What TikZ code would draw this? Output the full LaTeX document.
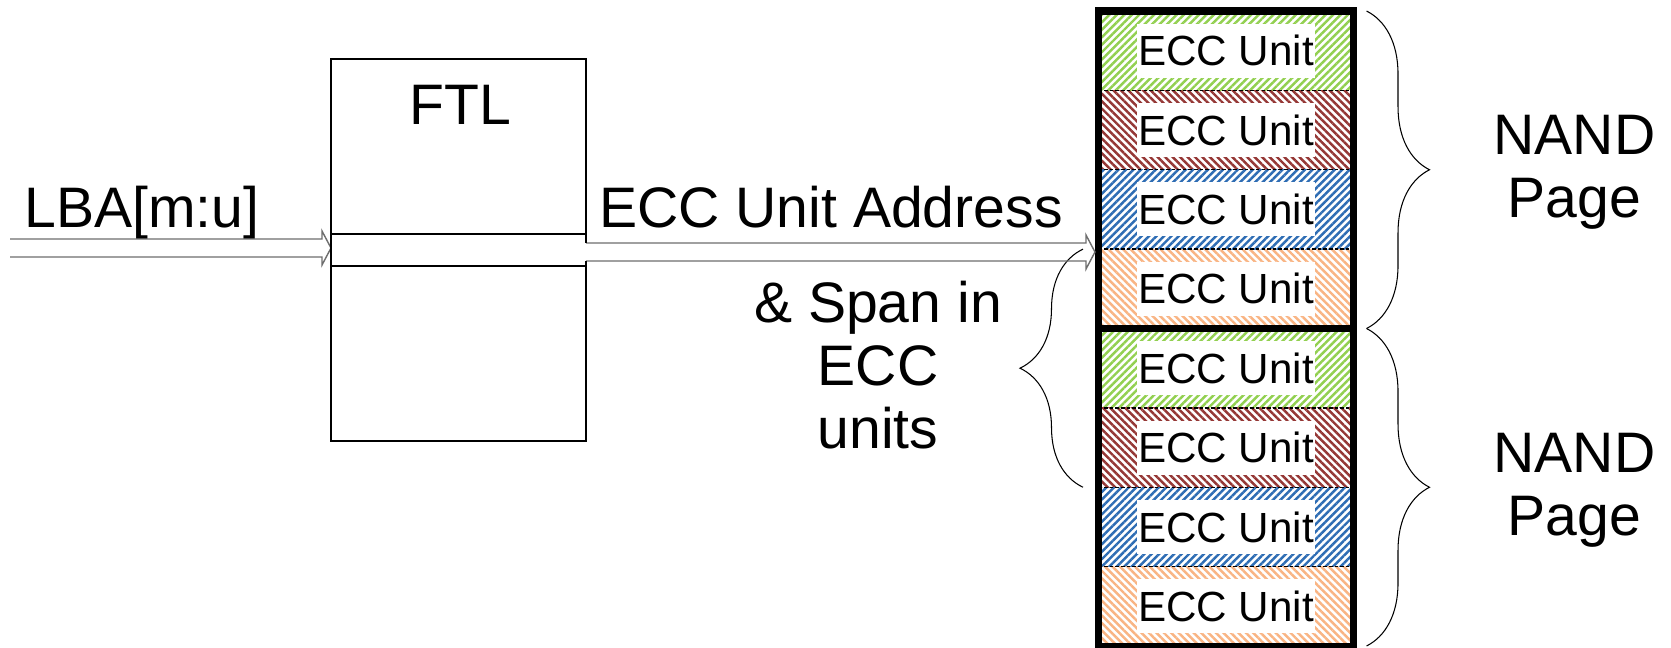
\documentclass[tikz,border=0pt]{standalone}
\usepackage{fontspec}
\setmainfont{Liberation Sans}
\usepackage{xcolor}
\definecolor{ndink}{HTML}{000000}
\definecolor{ndgrey}{HTML}{6E6E6E}
\definecolor{ndgreen}{HTML}{92D050}
\definecolor{ndred}{HTML}{953735}
\definecolor{ndblue}{HTML}{2E6DB4}
\definecolor{ndorange}{HTML}{F9B483}
\usepackage{tikz}
\usetikzlibrary{calc,patterns.meta,decorations.pathreplacing}
\tikzset{
  ndbox/.style  ={rectangle, draw=none, outer sep=0pt, inner sep=0pt,
                  minimum width=5.1cm, minimum height=7.64cm},
  ndband/.style ={rectangle, draw=none, outer sep=0pt, inner sep=0pt,
                  minimum width=5.1cm, minimum height=0.64cm},
  ndline/.style ={line width=1.1pt, draw=ndink},
  ndbig/.style  ={font=\fontsize{32.5}{36}\selectfont, align=center,
                  inner sep=0pt, text=ndink},
  ndunit/.style ={rectangle, draw=none, outer sep=0pt, inner sep=0pt,
                  minimum width=5.1cm, minimum height=1.5875cm},
  ndtag/.style  ={rectangle, fill=white, inner sep=0pt, minimum width=3.56cm,
                  minimum height=1.08cm, font=\fontsize{24}{28}\selectfont},
  ndstack/.style={rectangle, draw=ndink, line width=4pt, inner sep=0pt,
                  minimum width=5.1cm, minimum height=12.7cm},
  ndsplit/.style={dash pattern=on 2pt off 1.2pt, line width=0.8pt, draw=ndink},
  ndhollow/.style={line width=0.8pt, draw=ndgrey, line join=miter},
  ndbrace/.style={decorate, decoration={brace, amplitude=1.26cm},
                  line width=0.6pt, draw=ndink},
}
% outline arrow: open tail at #1, head ending at #2 (same height)
\newcommand{\hollowarrow}[2]{%
  \draw[ndhollow] ($(#1)+(0,-9)$) -- ($(#2)+(-9,-9)$) -- ($(#2)+(-9,-17)$)
    -- (#2) -- ($(#2)+(-9,17)$) -- ($(#2)+(-9,9)$) -- ($(#1)+(0,9)$);}

\begin{document}
\begin{tikzpicture}[x=0.2mm, y=-0.2mm]
  \path[use as bounding box, fill=white] (0,0) rectangle (1671,647);

  % FTL block with the address band running through it
  \node[ndbox] (ftl) at (458.5,250) {};
  \node[ndband] (band) at (458.5,250) {};
  \node[ndbig, anchor=base] (ftltxt) at (460.5,124) {FTL};

  % NAND stack: eight ECC units, four per page
  \foreach \col/\ang [count=\i] in {ndgreen/45, ndred/-45, ndblue/45, ndorange/-45,
                                   ndgreen/45, ndred/-45, ndblue/45, ndorange/-45}{
    \node[ndunit, pattern={Lines[angle=\ang, distance=3pt, line width=1.4pt]},
          pattern color=\col] (u\i) at (1226, {11+79.375*(\i-0.5)}) {};
    \node[ndtag] (tag\i) at (u\i) {ECC Unit};
  }
  \foreach \i in {1,2,3,5,6,7}
    \draw[ndsplit] (u\i.south west) -- (u\i.south east);
  \draw[ndink, line width=4pt] (u4.south west) -- (u4.south east);
  \node[ndstack] (nand) at (1226,328.5) {};

  % labels
  \node[ndbig, anchor=base west] (lba) at (24,227) {LBA[m:u]};
  \node[ndbig, anchor=base] (addr) at (831,227) {ECC Unit Address};
  \node[ndbig] (span) at (878,365) {\& Span in\\ECC\\units};
  \node[ndbig] (page1) at (1574.5,172) {NAND\\Page};
  \node[ndbig] (page2) at (1574.5,490) {NAND\\Page};

  % braces
  \draw[ndbrace] ([xshift=0.26cm]u1.north east) -- ([xshift=0.26cm]u4.south east);
  \draw[ndbrace] ([xshift=0.26cm]u5.north east) -- ([xshift=0.26cm]u8.south east);
  \draw[ndbrace] ([xshift=-0.31cm]u6.south west) -- ([xshift=-0.31cm]u4.north west);

  % arrows in and out of the FTL
  \coordinate (lbatail) at (10,248);
  \coordinate (lbatip) at (ftl.west |- lbatail);
  \hollowarrow{lbatail}{lbatip}
  \coordinate (addrtail) at ([yshift=-0.04cm]ftl.east);
  \coordinate (addrtip) at (nand.west |- addrtail);
  \hollowarrow{addrtail}{addrtip}

  \draw[ndline] ($(addrtail)+(0,-9)$) -- (ftl.north east) -- (ftl.north west)
    -- (ftl.south west) -- (ftl.south east) -- ($(addrtail)+(0,9)$);
  \draw[ndline] (band.north west) -- (band.north east)
    (band.south west) -- (band.south east);
\end{tikzpicture}
\end{document}
